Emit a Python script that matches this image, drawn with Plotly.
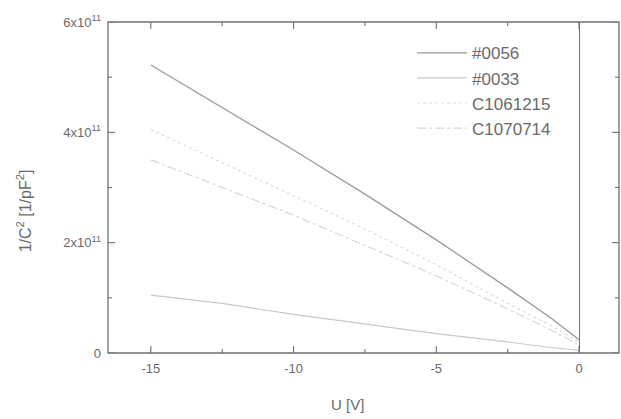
import plotly.graph_objects as go

# Data, y in units of 1e11 1/pF^2
u_vals = [-15, -12.5, -10, -7.5, -5, -2.5, -1, 0]
s_0056 = [5.22, 4.45, 3.68, 2.88, 2.05, 1.18, 0.64, 0.24]
s_0033 = [1.05, 0.9, 0.7, 0.52, 0.35, 0.2, 0.1, 0.05]
s_c1061215 = [4.05, 3.45, 2.85, 2.25, 1.6, 0.9, 0.5, 0.2]
s_c1070714 = [3.5, 3.0, 2.5, 1.95, 1.4, 0.8, 0.42, 0.15]

scale = 1e11
y_tickvals = [0, 2, 4, 6]
y_ticktext = ["0", "2x10<sup>11</sup>", "4x10<sup>11</sup>", "6x10<sup>11</sup>"]
y_minor = [1, 3, 5]
x_tickvals = [-15, -10, -5, 0]
x_ticktext = ["-15", "-10", "-5", "0"]
x_minor = [-12.5, -7.5, -2.5]

names = ["#0056", "#0033", "C1061215", "C1070714"]
series = [s_0056, s_0033, s_c1061215, s_c1070714]
styles = [
    dict(color="#9a9a9a", width=1.3, dash="solid"),
    dict(color="#c8c8c8", width=1.2, dash="solid"),
    dict(color="#dcdcdc", width=1.2, dash="dot"),
    dict(color="#d8d8d8", width=1.2, dash="dashdot"),
]

FONT = "Liberation Sans, Arial, sans-serif"
GRAY = "#6a6a6a"
AX = "#707070"

fig = go.Figure()
for n, s, st in zip(names, series, styles):
    fig.add_trace(go.Scatter(
        x=u_vals, y=[v * scale for v in s], mode="lines", name=n, line=st,
    ))

fig.update_xaxes(
    range=[-16.5, 1.4], tickmode="array", tickvals=x_tickvals, ticktext=x_ticktext,
    showline=False, ticks="", showgrid=False, ticklabelstandoff=6,
    tickfont=dict(family=FONT, size=13, color=GRAY),
    zeroline=True, zerolinecolor=AX, zerolinewidth=1.3,
)
fig.update_yaxes(
    range=[0, 6 * scale], tickmode="array",
    tickvals=[v * scale for v in y_tickvals], ticktext=y_ticktext,
    showline=False, ticks="", showgrid=False, ticklabelstandoff=6,
    tickfont=dict(family=FONT, size=13, color=GRAY),
    zeroline=False,
)

# frame
fig.add_shape(type="rect", xref="paper", yref="paper", x0=0, y0=0, x1=1, y1=1,
              line=dict(color=AX, width=1.3), layer="above")

# ticks (inside, mirrored) at the axis tick values
def xtick(v, length):
    for anchor, sign in ((0, 1), (1, -1)):
        fig.add_shape(type="line", xref="x", yref="paper", x0=v, x1=v,
                      ysizemode="pixel", yanchor=anchor, y0=0, y1=sign * length,
                      line=dict(color=AX, width=1.1), layer="above")

def ytick(v, length):
    for anchor, sign in ((0, 1), (1, -1)):
        fig.add_shape(type="line", yref="y", xref="paper", y0=v, y1=v,
                      xsizemode="pixel", xanchor=anchor, x0=0, x1=sign * length,
                      line=dict(color=AX, width=1.1), layer="above")

for v in x_tickvals:
    xtick(v, 7)
for v in x_minor:
    xtick(v, 4)
for v in y_tickvals:
    ytick(v * scale, 7)
for v in y_minor:
    ytick(v * scale, 4)

fig.add_annotation(
    text="1/C<sup>2</sup> [1/pF<sup>2</sup>]", textangle=-90,
    xref="paper", yref="paper", x=-0.165, y=0.43, xanchor="center", yanchor="middle",
    showarrow=False, font=dict(family=FONT, size=16, color=GRAY),
)
fig.add_annotation(
    text="U [V]", xref="paper", yref="paper", x=0.468, y=-0.155,
    xanchor="center", yanchor="middle",
    showarrow=False, font=dict(family=FONT, size=15, color=GRAY),
)

fig.update_layout(
    width=621, height=419,
    margin=dict(l=108, r=2, t=22, b=66),
    paper_bgcolor="white", plot_bgcolor="white",
    showlegend=True,
    legend=dict(
        x=0.595, y=0.96, xanchor="left", yanchor="top",
        bgcolor="rgba(0,0,0,0)", itemwidth=50,
        font=dict(family=FONT, size=17, color=GRAY),
        tracegroupgap=0,
    ),
)

fig.write_html("out.html")
